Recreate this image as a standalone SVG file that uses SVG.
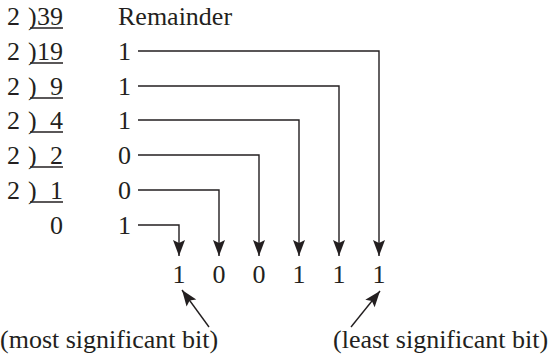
<svg xmlns="http://www.w3.org/2000/svg" width="548" height="357" viewBox="0 0 548 357">
<style>
text{font-size:26px;fill:#231f20}
.r{text-anchor:end}
.m{text-anchor:middle}
.u{stroke:#231f20;stroke-width:1.3;fill:none}
.c{stroke:#231f20;stroke-width:1.4;fill:none;marker-end:url(#ah)}
</style>
<defs>
<marker id="ah" markerUnits="userSpaceOnUse" markerWidth="18" markerHeight="14" viewBox="0 -7 17 14" refX="16" refY="0" orient="auto">
<path d="M0,-6 L16,0 L0,6 L3,0 Z" fill="#231f20"/>
</marker>
</defs>
<g font-family="Liberation Serif, Times New Roman, serif">
<g id="division">
<g id="row0"><text x="7" y="25">2</text><text x="28" y="25">)</text><text class="r" x="63" y="25">39</text><line class="u" x1="30" y1="28" x2="63" y2="28"/></g>
<g id="row1"><text x="7" y="60">2</text><text x="28" y="60">)</text><text class="r" x="63" y="60">19</text><line class="u" x1="30" y1="63" x2="63" y2="63"/></g>
<g id="row2"><text x="7" y="95">2</text><text x="28" y="95">)</text><text class="r" x="63" y="95">9</text><line class="u" x1="30" y1="98" x2="63" y2="98"/></g>
<g id="row3"><text x="7" y="129">2</text><text x="28" y="129">)</text><text class="r" x="63" y="129">4</text><line class="u" x1="30" y1="132" x2="63" y2="132"/></g>
<g id="row4"><text x="7" y="164">2</text><text x="28" y="164">)</text><text class="r" x="63" y="164">2</text><line class="u" x1="30" y1="167" x2="63" y2="167"/></g>
<g id="row5"><text x="7" y="199">2</text><text x="28" y="199">)</text><text class="r" x="63" y="199">1</text><line class="u" x1="30" y1="202" x2="63" y2="202"/></g>
<g id="row6"><text class="r" x="63" y="234">0</text></g>
</g>
<g id="remainders">
<text x="118" y="25">Remainder</text>
<text x="118" y="60">1</text>
<text x="118" y="95">1</text>
<text x="118" y="129">1</text>
<text x="118" y="164">0</text>
<text x="118" y="199">0</text>
<text x="118" y="234">1</text>
</g>
<g id="result">
<text class="m" x="179" y="283">1</text>
<text class="m" x="219" y="283">0</text>
<text class="m" x="259" y="283">0</text>
<text class="m" x="299" y="283">1</text>
<text class="m" x="339" y="283">1</text>
<text class="m" x="379" y="283">1</text>
</g>
<g id="labels">
<text x="0" y="348">(most significant bit)</text>
<text x="333" y="348">(least significant bit)</text>
</g>
</g>
<g id="connectors">
<path class="c" d="M138,51 H379 V256"/>
<path class="c" d="M138,86 H339 V256"/>
<path class="c" d="M138,120 H299 V256"/>
<path class="c" d="M138,155 H259 V256"/>
<path class="c" d="M138,190 H219 V256"/>
<path class="c" d="M138,225 H179 V256"/>
<path class="c" d="M209,327 L182,290"/>
<path class="c" d="M351,327 L380,291"/>
</g>
</svg>
